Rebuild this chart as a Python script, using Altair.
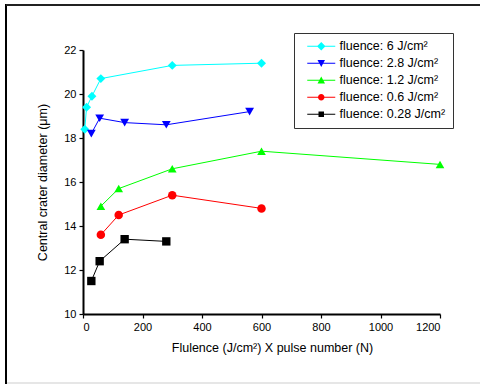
import altair as alt
import pandas as pd

# ---- data ----
series_names = ["fluence: 6 J/cm²", "fluence: 2.8 J/cm²", "fluence: 1.2 J/cm²",
                "fluence: 0.6 J/cm²", "fluence: 0.28 J/cm²"]
series_colors = ["#00FFFF", "#0000FF", "#00FF00", "#FF0000", "#000000"]
series_shapes = ["diamond", "triangle-down", "triangle-up", "circle", "square"]
series_sizes = [80, 70, 70, 55, 42]

x_6 = [6, 12, 30, 60, 300, 600]
y_6 = [18.4, 19.4, 19.9, 20.7, 21.3, 21.4]
x_28 = [28, 56, 140, 280, 560]
y_28 = [18.2, 18.9, 18.7, 18.6, 19.2]
x_12 = [60, 120, 300, 600, 1200]
y_12 = [14.9, 15.7, 16.6, 17.4, 16.8]
x_06 = [60, 120, 300, 600]
y_06 = [13.6, 14.5, 15.4, 14.8]
x_028 = [28, 56, 140, 280]
y_028 = [11.5, 12.4, 13.4, 13.3]

xs = [x_6, x_28, x_12, x_06, x_028]
ys = [y_6, y_28, y_12, y_06, y_028]

rows = []
for i, (name, xv, yv) in enumerate(zip(series_names, xs, ys)):
    for k, (a, b) in enumerate(zip(xv, yv)):
        rows.append({"fluence": name, "x": a, "y": b, "order": k})
df = pd.DataFrame(rows)

# legend symbols: a thin line with the marker in the middle (unit = 5 px),
# shifted right so the symbol sits inside the legend box
line_seg = "M0,-0.11H5.6V0.11H0Z"
legend_paths = [
    line_seg + "M2.8,-0.85L3.65,0L2.8,0.85L1.95,0Z",
    line_seg + "M2.05,-0.65L3.55,-0.65L2.8,0.75Z",
    line_seg + "M2.05,0.65L2.8,-0.75L3.55,0.65Z",
    line_seg + "M3.45,0A0.65,0.65,0,1,1,2.15,0A0.65,0.65,0,1,1,3.45,0Z",
    line_seg + "M2.25,-0.55H3.35V0.55H2.25Z",
]

FONT = "Liberation Sans"

x_enc = alt.X("x:Q", scale=alt.Scale(domain=[0, 1200], nice=False, zero=False),
              axis=alt.Axis(title="Flulence (J/cm²) X pulse number (N)",
                            values=list(range(0, 1201, 50)),
                            labelExpr="datum.value % 200 == 0 ? datum.label : ''",
                            format="d", titleX=189, titlePadding=9))
y_enc = alt.Y("y:Q", scale=alt.Scale(domain=[10, 22], nice=False, zero=False),
              axis=alt.Axis(title="Central crater diameter (μm)",
                            values=list(range(10, 23)),
                            labelExpr="datum.value % 2 == 0 ? datum.label : ''",
                            titlePadding=14))

base = alt.Chart(df)

lines = base.mark_line(strokeWidth=1).encode(
    x=x_enc, y=y_enc,
    color=alt.Color("fluence:N", scale=alt.Scale(domain=series_names, range=series_colors), legend=None),
    detail="fluence:N", order="order:Q")

points = base.mark_point(filled=True, opacity=1).encode(
    x="x:Q", y="y:Q",
    color=alt.Color("fluence:N", scale=alt.Scale(domain=series_names, range=series_colors), legend=None),
    shape=alt.Shape("fluence:N", scale=alt.Scale(domain=series_names, range=series_shapes), legend=None),
    size=alt.Size("fluence:N", scale=alt.Scale(domain=series_names, range=series_sizes), legend=None))

leg_opts = dict(title=None, orient="none", legendX=211, legendY=-17,
                strokeColor="#333333", padding=7, symbolSize=100,
                labelFont=FONT, labelFontSize=12.5, labelColor="black",
                symbolStrokeWidth=0, rowPadding=4, labelOffset=26)

legend_layer = base.transform_filter("false").mark_point(filled=True, opacity=1, strokeWidth=0).encode(
    x="x:Q", y="y:Q",
    color=alt.Color("fluence:N", scale=alt.Scale(domain=series_names, range=series_colors),
                    legend=alt.Legend(**leg_opts)),
    shape=alt.Shape("fluence:N", scale=alt.Scale(domain=series_names, range=legend_paths),
                    legend=alt.Legend(**leg_opts)))

# decorative outer frame
frame_left = alt.Chart(df).mark_rule(color="black", strokeWidth=2).encode(
    x=alt.value(-77), y=alt.value(-46), y2=alt.value(334))
frame_top = alt.Chart(df).mark_rule(color="#222222", strokeWidth=1.5).encode(
    x=alt.value(-77), x2=alt.value(420), y=alt.value(-45))
frame_bottom = alt.Chart(df).mark_rule(color="#e6e6e6", strokeWidth=1.5).encode(
    x=alt.value(-76), x2=alt.value(420), y=alt.value(333))

chart = alt.layer(lines, points, legend_layer, frame_left, frame_top, frame_bottom).resolve_scale(
    color="independent", shape="independent", size="independent"
).properties(
    width=357, height=264,
    autosize=alt.AutoSizeParams(type="none"),
    padding={"left": 83, "top": 50, "right": 40, "bottom": 70},
    background="white",
).configure_view(stroke=None).configure_axis(
    grid=False, domainColor="black", domainWidth=2, tickColor="black", tickWidth=1.2,
    tickSize=4, labelFont=FONT, labelFontSize=11, labelColor="black", labelPadding=3,
    titleFont=FONT, titleFontSize=12.5, titleFontWeight="normal", titleColor="black",
)

chart.save("out.html", embed_options={"renderer": "svg", "actions": False})
